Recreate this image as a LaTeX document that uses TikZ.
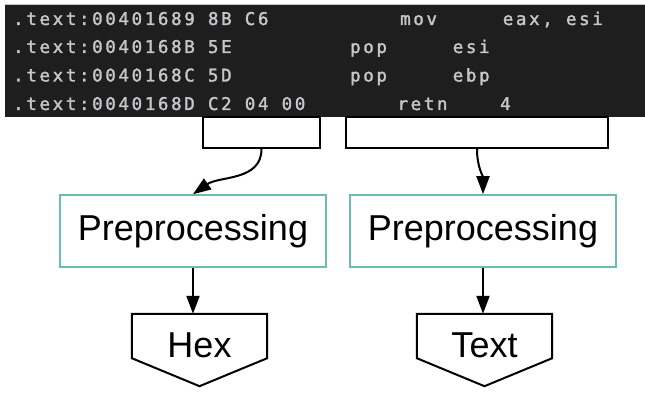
\documentclass[tikz,border=0pt]{standalone}
\usepackage{fontspec}
\setmainfont{Liberation Sans}
\setmonofont[LetterSpace=15,FakeBold=1.8]{DejaVu Sans Mono}
\usetikzlibrary{arrows.meta}
\definecolor{codebg}{HTML}{1E1E1E}
\definecolor{codefg}{HTML}{C4C8CC}
\definecolor{prepcol}{HTML}{6DBDAF}
\tikzset{
  codeline/.style={anchor=base west, inner sep=0pt, text=codefg,
    font=\ttfamily\fontsize{17.5}{24}\selectfont},
  selbox/.style={draw, line width=2pt, minimum height=31pt, inner sep=0pt},
  prepbox/.style={draw=prepcol, line width=1.6pt, minimum width=266pt,
    minimum height=72pt, inner sep=0pt, font=\fontsize{36}{40}\selectfont},
  outlabel/.style={minimum width=135pt, minimum height=62pt, inner sep=0pt,
    font=\fontsize{36}{40}\selectfont},
}
\begin{document}
\begin{tikzpicture}[x=1pt,y=1pt]
  \useasboundingbox (0,0) rectangle (645,396);
  \fill[codebg] (5,279) rectangle (645,392);
  \draw[gray!45] (5,391.5) -- (645,391.5);
  \draw[codeline]
    (13,371) node (row1){.text:00401689~8B~C6~~~~~~~~~~mov~~~~~eax,~esi}
    (13,343) node (row2){.text:0040168B~5E~~~~~~~~~pop~~~~~esi}
    (13,314.5) node (row3){.text:0040168C~5D~~~~~~~~~pop~~~~~ebp}
    (13,286) node (row4){.text:0040168D~C2~04~00~~~~~~~retn~~~~4};
  \draw
    (261.5,263.5) node[selbox, minimum width=117pt] (hexsel){}
    (477,263.5) node[selbox, minimum width=262pt] (textsel){}
    (193,165) node[prepbox] (prep1){Preprocessing}
    (483,165) node[prepbox] (prep2){Preprocessing}
    (199.5,51) node[outlabel] (hex){Hex}
    (484.5,51) node[outlabel] (text){Text};
  \foreach \n in {hex,text}
    \draw[line width=2pt] (\n.north west) -- (\n.north east)
      -- ([yshift=18pt]\n.south east) -- ([yshift=-10pt]\n.south)
      -- ([yshift=18pt]\n.south west) -- cycle;
  \begin{scope}[-{Triangle[length=18pt,width=13pt]}, line width=2pt]
    \draw (hexsel.south) to[out=-90, in=35] (prep1.north);
    \draw (textsel.south) to[out=-90, in=90] (prep2.north);
    \draw (prep1.south) to (prep1.south |- hex.north);
    \draw (prep2.south) to (prep2.south |- text.north);
  \end{scope}
\end{tikzpicture}
\end{document}
